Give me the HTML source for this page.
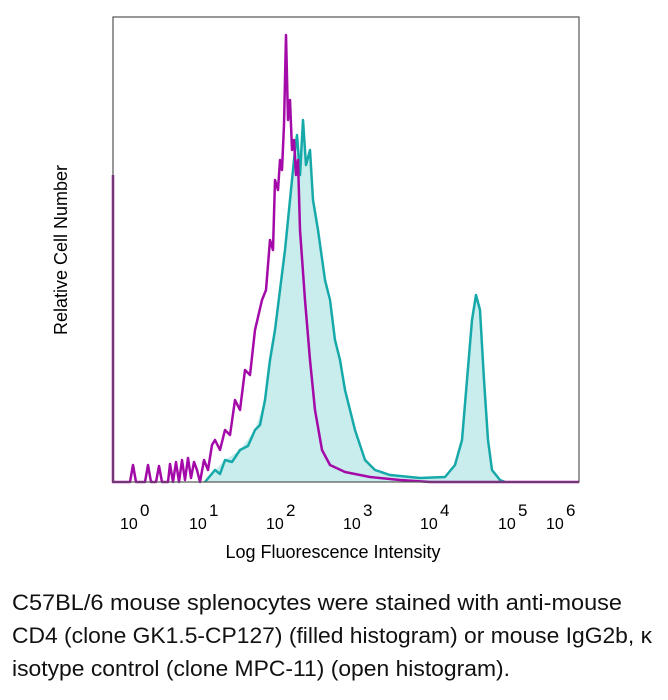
<!DOCTYPE html>
<html><head><meta charset="utf-8"><style>body{margin:0;background:#fff}svg{display:block}</style></head>
<body>
<svg width="668" height="700" viewBox="0 0 668 700" xmlns="http://www.w3.org/2000/svg" font-family="Liberation Sans, sans-serif">
<rect x="0" y="0" width="668" height="700" fill="#fff"/>
<polygon fill="#c9ecec" points="205,482 215,470 225,460 240,450 255,430 265,400 270,360 275,330 280,290 285,250 290,200 295,150 297,135 300,175 303,120 306,165 310,150 313,200 318,230 325,280 335,340 345,390 355,430 365,460 375,470 390,475 420,478 445,477 455,465 462,440 467,380 472,320 476,295 480,310 484,380 488,440 492,470 500,480 505,482"/>
<polyline fill="none" stroke="#17a9a9" stroke-width="2.5" stroke-linejoin="round" points="205,482 215,470 220,474 225,460 232,462 240,450 248,446 255,430 260,425 265,400 270,360 275,330 280,290 285,250 290,200 295,150 297,135 300,175 303,120 306,165 310,150 313,200 318,230 325,280 330,300 335,340 340,360 345,390 350,410 355,430 360,445 365,460 375,470 390,475 420,478 445,477 455,465 462,440 467,380 472,320 476,295 480,310 484,380 488,440 492,470 500,480 505,482"/>
<polyline fill="none" stroke="#a30aa8" stroke-width="2.5" stroke-linejoin="round" points="113,175 113,482 130,482 133,465 136,482 145,482 148,465 151,482 156,482 159,466 162,482 168,482 170,464 173,482 176,462 179,482 182,460 185,480 188,458 191,478 194,462 197,470 200,482 204,460 208,470 212,445 215,440 220,450 225,430 230,435 235,400 240,410 245,370 250,375 255,330 262,300 266,290 270,240 273,250 275,180 278,190 280,160 282,170 284,125 286,35 288,120 290,100 292,150 294,140 296,175 298,160 300,230 305,300 310,360 315,410 322,450 330,465 345,472 370,477 400,480 430,482 579,482"/>
<rect x="113" y="17" width="466" height="465" fill="none" stroke="#555" stroke-width="1.2"/>
<g font-size="16" fill="#000">
<text x="120" y="529">10</text><text x="140" y="516" font-size="17">0</text>
<text x="189" y="529">10</text><text x="209" y="516" font-size="17">1</text>
<text x="266" y="529">10</text><text x="286" y="516" font-size="17">2</text>
<text x="343" y="529">10</text><text x="363" y="516" font-size="17">3</text>
<text x="420" y="529">10</text><text x="440" y="516" font-size="17">4</text>
<text x="498" y="529">10</text><text x="518" y="516" font-size="17">5</text>
<text x="546" y="529">10</text><text x="566" y="516" font-size="17">6</text>
</g>
<text x="333" y="558" font-size="18" text-anchor="middle">Log Fluorescence Intensity</text>
<text transform="translate(67,250) rotate(-90)" font-size="18" text-anchor="middle">Relative Cell Number</text>
<g font-size="22" fill="#111">
<text x="12" y="610" textLength="610" lengthAdjust="spacingAndGlyphs">C57BL/6 mouse splenocytes were stained with anti-mouse</text>
<text x="12" y="643" textLength="640" lengthAdjust="spacingAndGlyphs">CD4 (clone GK1.5-CP127) (filled histogram) or mouse IgG2b, κ</text>
<text x="12" y="676" textLength="498" lengthAdjust="spacingAndGlyphs">isotype control (clone MPC-11) (open histogram).</text>
</g>
</svg>
</body></html>
